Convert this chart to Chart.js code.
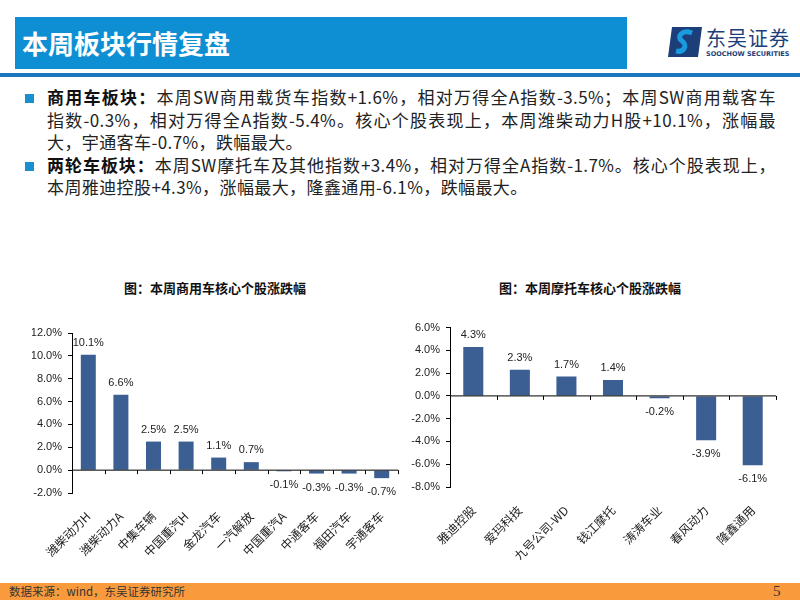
<!DOCTYPE html>
<html>
<head>
<meta charset="utf-8">
<script src="https://cdn.jsdelivr.net/npm/chart.js@4.4.0/dist/chart.umd.min.js"></script>
<style>
  body { margin: 0; width: 800px; height: 600px; position: relative; background: #fff; overflow: hidden;
         font-family: "Noto Sans CJK SC", "Noto Sans", sans-serif; }
  .hdr { position: absolute; left: 15px; top: 17px; width: 612px; height: 52px; background: #0f8fd3; }
  .hdr span { position: absolute; left: 7px; top: 7px; color: #fff; font-size: 26px; font-weight: bold; line-height: 38px; }
  .hline { position: absolute; left: 0; top: 73px; width: 800px; height: 4px; background: #1a77bd; }
  .logo { position: absolute; left: 668px; top: 27px; }
  .logo .cn { position: absolute; left: 38px; top: -4px; font-size: 20px; color: #1c3f7a; white-space: nowrap; letter-spacing: 1px; }
  .logo .en { position: absolute; left: 38px; top: 23px; font-size: 6.5px; color: #1c3f7a; font-weight: bold; white-space: nowrap; font-family: "DejaVu Sans", sans-serif; }
  .txt { position: absolute; left: 47px; top: 86px; width: 729px; font-size: 17px; line-height: 22.6px; color: #222; letter-spacing: 0.4px; }
  .txt div { white-space: nowrap; }
  .txt .j { text-align: justify; text-align-last: justify; white-space: normal; }
  .txt b { color: #111; }
  .sq { position: absolute; left: 25px; width: 9px; height: 9px; background: #1a8fd0; }
  .ctitle { position: absolute; top: 278px; font-size: 13px; font-weight: bold; color: #111; text-align: center; }
  .box { position: absolute; }
  .foot { position: absolute; left: 0; top: 583px; width: 800px; height: 17px; background: #f99b3c; }
  .foot span { position: absolute; left: 9px; top: 0; font-size: 11.5px; line-height: 17px; color: #333; }
  .foot i { position: absolute; left: 773px; top: -1px; font-style: normal; font-size: 15px; line-height: 18px; color: #333; font-family: "Liberation Serif", serif; }
</style>
</head>
<body>
<div class="hdr"><span>本周板块行情复盘</span></div>
<div class="hline"></div>
<div class="logo">
  <svg width="34" height="30" viewBox="0 0 34 30">
    <polygon points="4,0 34,0 30,30 0,30" fill="#1c3f7a"/>
    <path d="M24 6 C14 2 8 10 14 14 C20 18 16 26 8 24" stroke="#1a9be0" stroke-width="5" fill="none"/>
  </svg>
  <div class="cn">东吴证券</div>
  <div class="en">SOOCHOW SECURITIES</div>
</div>

<div class="sq" style="top:94px"></div>
<div class="sq" style="top:162px"></div>
<div class="txt">
<div class="j"><b>商用车板块：</b>本周SW商用载货车指数+1.6%，相对万得全A指数-3.5%；本周SW商用载客车</div>
<div class="j">指数-0.3%，相对万得全A指数-5.4%。核心个股表现上，本周潍柴动力H股+10.1%，涨幅最</div>
<div>大，宇通客车-0.7%，跌幅最大。</div>
<div class="j"><b>两轮车板块：</b>本周SW摩托车及其他指数+3.4%，相对万得全A指数-1.7%。核心个股表现上，</div>
<div>本周雅迪控股+4.3%，涨幅最大，隆鑫通用-6.1%，跌幅最大。</div>
</div>

<div class="ctitle" style="left:105px;width:220px">图：本周商用车核心个股涨跌幅</div>
<div class="ctitle" style="left:480px;width:220px">图：本周摩托车核心个股涨跌幅</div>

<div class="box" style="left:20px;top:320px;width:385px;height:240px"><canvas id="c1"></canvas></div>
<div class="box" style="left:405px;top:315px;width:380px;height:245px"><canvas id="c2"></canvas></div>

<div class="foot"><span>数据来源：wind，东吴证券研究所</span><i>5</i></div>

<script>
// Data
const truckNames = ['潍柴动力H', '潍柴动力A', '中集车辆', '中国重汽H', '金龙汽车', '一汽解放', '中国重汽A', '中通客车', '福田汽车', '宇通客车'];
const truckChange = [10.1, 6.6, 2.5, 2.5, 1.1, 0.7, -0.1, -0.3, -0.3, -0.7];
const motoNames = ['雅迪控股', '爱玛科技', '九号公司-WD', '钱江摩托', '涛涛车业', '春风动力', '隆鑫通用'];
const motoChange = [4.3, 2.3, 1.7, 1.4, -0.2, -3.9, -6.1];
const truckAxis = { min: -2, max: 12 };
const motoAxis = { min: -8, max: 6 };

const barColor = '#3b5e93';
const numFont = '"Liberation Sans", "Noto Sans CJK SC", sans-serif';
const cjkFont = '"Noto Sans CJK SC", sans-serif';

// zero line with tick marks + value labels
const zeroAxis = {
  id: 'zeroAxis',
  afterDatasetsDraw(chart) {
    const ctx = chart.ctx;
    const y = chart.scales.y;
    const y0 = y.getPixelForValue(0);
    const area = chart.chartArea;
    ctx.save();
    ctx.strokeStyle = '#000';
    ctx.lineWidth = 1;
    ctx.beginPath();
    ctx.moveTo(area.left, y0);
    ctx.lineTo(area.right, y0);
    const n = chart.data.labels.length;
    const step = (area.right - area.left) / n;
    for (let i = 1; i <= n; i++) {
      const px = Math.round(area.left + step * i) + 0.5;
      ctx.moveTo(px, y0);
      ctx.lineTo(px, y0 + 4);
    }
    ctx.stroke();

    ctx.fillStyle = '#222';
    ctx.font = '11px ' + numFont;
    ctx.textAlign = 'center';
    ctx.textBaseline = 'middle';
    const meta = chart.getDatasetMeta(0);
    chart.data.datasets[0].data.forEach((v, i) => {
      const bar = meta.data[i];
      const py = v >= 0 ? bar.y - 12 : bar.y + 14;
      ctx.fillText(v.toFixed(1) + '%', bar.x, py);
    });
    ctx.restore();
  }
};

function makeChart(id, labels, values, axis, pad, xh, barPct) {
  return new Chart(document.getElementById(id), {
    type: 'bar',
    data: {
      labels: labels,
      datasets: [{ data: values, backgroundColor: barColor, barPercentage: barPct, categoryPercentage: 1 }]
    },
    options: {
      responsive: true,
      maintainAspectRatio: false,
      animation: false,
      layout: { padding: pad },
      plugins: { legend: { display: false }, tooltip: { enabled: false } },
      scales: {
        x: {
          grid: { display: false },
          border: { display: false },
          ticks: { color: '#222', font: { size: 12, family: cjkFont }, minRotation: 45, maxRotation: 45, padding: 8, autoSkip: false },
          afterFit: s => { s.height = xh; }
        },
        y: {
          min: axis.min,
          max: axis.max,
          grid: { drawOnChartArea: false, tickLength: 4, color: '#000' },
          border: { display: true, color: '#000' },
          ticks: { stepSize: 2, color: '#222', padding: 6, font: { size: 11, family: numFont },
                   callback: v => v.toFixed(1) + '%' },
          afterFit: s => { s.width = 40; }
        }
      }
    },
    plugins: [zeroAxis]
  });
}

makeChart('c1', truckNames, truckChange, truckAxis, { top: 13, right: 7, bottom: 0, left: 12 }, 67, 0.46);
makeChart('c2', motoNames, motoChange, motoAxis, { top: 12, right: 9, bottom: 0, left: 5 }, 73, 0.43);
</script>
</body>
</html>
